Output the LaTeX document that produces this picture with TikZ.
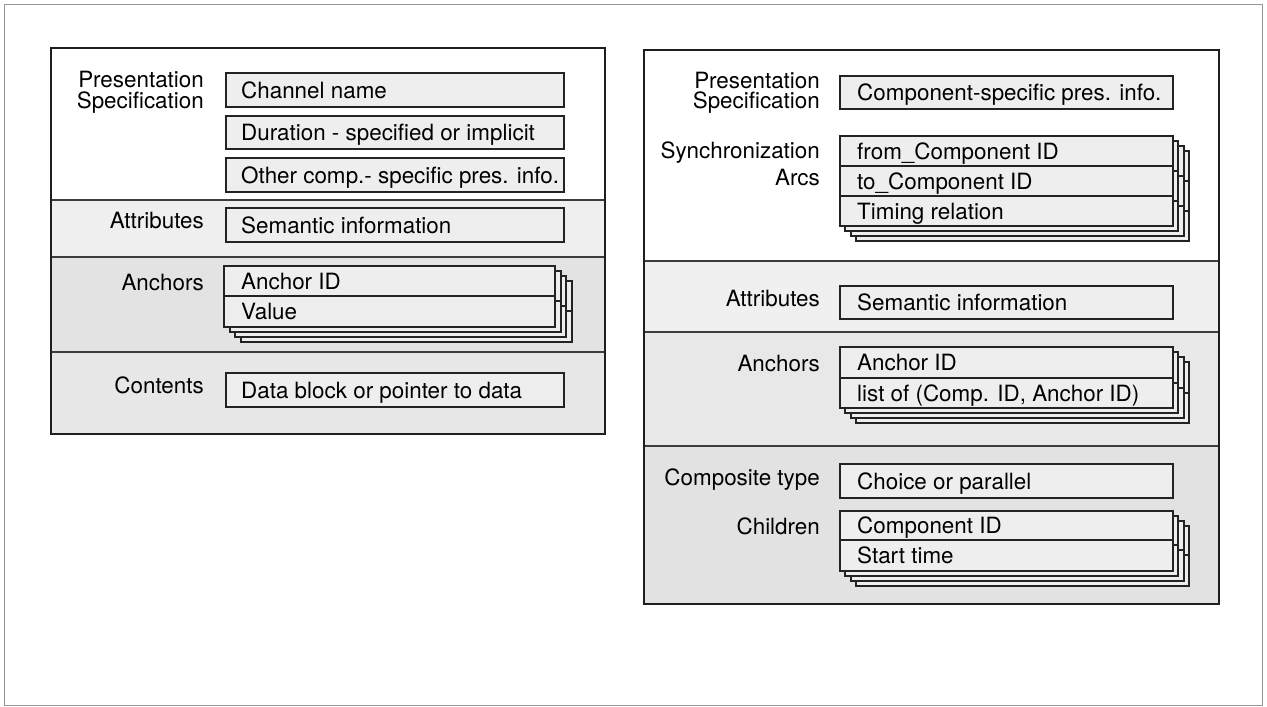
\documentclass[tikz,border=0pt]{standalone}
\usepackage{fontspec}
\setmainfont{TeX Gyre Heros}
\usepackage{tikz}

\begin{document}
\begin{tikzpicture}[x=1pt,y=1pt,yscale=-1,xscale=1,
  panel/.style={draw={rgb, 255:red, 30; green, 30; blue, 30 }, line width=2},
  divider/.style={draw={rgb, 255:red, 60; green, 60; blue, 60 }, line width=1.1},
  fieldbox/.style={draw={rgb, 255:red, 35; green, 35; blue, 35 }, line width=1.4, fill={rgb, 255:red, 238; green, 238; blue, 238 }},
  fieldtxt/.style={anchor=west, inner sep=0, text height=16pt, text depth=0pt, font=\fontsize{22.4}{21.5}\selectfont},
  lbltxt/.style={anchor=east, inner sep=0, text height=16pt, text depth=0pt, font=\fontsize{22.4}{21.5}\selectfont}
]
\useasboundingbox (0,0) rectangle (1267,707);

%Shape: Frame
\draw [color={rgb, 255:red, 150; green, 150; blue, 150 }, line width=1] (4,4) rectangle (1262,705);

%%%%%%%% Left panel
%Shape: Sections
\fill [white] (51,48) rectangle (605,200);
\fill [fill={rgb, 255:red, 239; green, 239; blue, 239 }] (51,200) rectangle (605,257);
\fill [fill={rgb, 255:red, 227; green, 227; blue, 227 }] (51,257) rectangle (605,352);
\fill [fill={rgb, 255:red, 231; green, 231; blue, 231 }] (51,352) rectangle (605,434);
\draw [divider] (51,200) -- (605,200);
\draw [divider] (51,257) -- (605,257);
\draw [divider] (51,352) -- (605,352);
\draw [panel] (51,48) rectangle (605,434);

%Shape: Rectangles
\draw [fieldbox] (226,73) rectangle (564,107);
\draw [fieldbox] (226,116) rectangle (564,149);
\draw [fieldbox] (226,158) rectangle (564,192);
\draw [fieldbox] (226,208) rectangle (564,242);
\draw [fieldbox] (226,373) rectangle (564,407);

%Shape: Stack of anchors
\draw [fieldbox] (241,281) rectangle (572,342) (241,311) -- (572,311);
\draw [fieldbox] (235,276) rectangle (566,337) (235,306) -- (566,306);
\draw [fieldbox] (230,271) rectangle (561,332) (230,301) -- (561,301);
\draw [fieldbox] (224,266) rectangle (555,327) (224,296) -- (555,296);

% Text Node
\node [lbltxt] (lpres) at (204,79) {Presentation};
\node [lbltxt] (lspec) at (204,100) {Specification};
\node [lbltxt] (latt) at (204,220) {Attributes};
\node [lbltxt] (lanc) at (204,282) {Anchors};
\node [lbltxt] (lcont) at (204,385) {Contents};
% Text Node
\node [fieldtxt] (lchan) at (241,90) {Channel name};
\node [fieldtxt] (ldur) at (241,132.5) {Duration - specified or implicit};
\node [fieldtxt] (loth) at (241,175) {Other comp.- specific pres. info.};
\node [fieldtxt] (lsem) at (241,225) {Semantic information};
\node [fieldtxt] (lancid) at (241,281) {Anchor ID};
\node [fieldtxt] (lval) at (241,311.5) {Value};
\node [fieldtxt] (ldata) at (241,390) {Data block or pointer to data};

%%%%%%%% Right panel
%Shape: Sections
\fill [white] (644,50) rectangle (1219,261);
\fill [fill={rgb, 255:red, 240; green, 240; blue, 240 }] (644,261) rectangle (1219,332);
\fill [fill={rgb, 255:red, 232; green, 232; blue, 232 }] (644,332) rectangle (1219,446);
\fill [fill={rgb, 255:red, 226; green, 226; blue, 226 }] (644,446) rectangle (1219,604);
\draw [divider] (644,261) -- (1219,261);
\draw [divider] (644,332) -- (1219,332);
\draw [divider] (644,446) -- (1219,446);
\draw [panel] (644,50) rectangle (1219,604);

%Shape: Rectangles
\draw [fieldbox] (840,76) rectangle (1173,109);
\draw [fieldbox] (840,286) rectangle (1173,319);
\draw [fieldbox] (840,464) rectangle (1173,498);

%Shape: Stack of arcs
\draw [fieldbox] (856,151) rectangle (1189,241) (856,181) -- (1189,181) (856,211) -- (1189,211);
\draw [fieldbox] (851,146) rectangle (1184,236) (851,176) -- (1184,176) (851,206) -- (1184,206);
\draw [fieldbox] (845,141) rectangle (1178,231) (845,171) -- (1178,171) (845,201) -- (1178,201);
\draw [fieldbox] (840,136) rectangle (1173,226) (840,166) -- (1173,166) (840,196) -- (1173,196);

%Shape: Stack of anchors
\draw [fieldbox] (856,362) rectangle (1189,423) (856,393) -- (1189,393);
\draw [fieldbox] (851,357) rectangle (1184,418) (851,388) -- (1184,388);
\draw [fieldbox] (845,352) rectangle (1178,413) (845,383) -- (1178,383);
\draw [fieldbox] (840,347) rectangle (1173,408) (840,378) -- (1173,378);

%Shape: Stack of children
\draw [fieldbox] (856,526) rectangle (1189,586) (856,555) -- (1189,555);
\draw [fieldbox] (851,521) rectangle (1184,581) (851,550) -- (1184,550);
\draw [fieldbox] (845,516) rectangle (1178,576) (845,545) -- (1178,545);
\draw [fieldbox] (840,511) rectangle (1173,571) (840,540) -- (1173,540);

% Text Node
\node [lbltxt] (rpres) at (820,80) {Presentation};
\node [lbltxt] (rspec) at (820,100) {Specification};
\node [lbltxt] (rsync) at (820,150) {Synchronization};
\node [lbltxt] (rarcs) at (820,177) {Arcs};
\node [lbltxt] (ratt) at (820,298) {Attributes};
\node [lbltxt] (ranc) at (820,363) {Anchors};
\node [lbltxt] (rctype) at (820,477) {Composite type};
\node [lbltxt] (rchild) at (820,526) {Children};
% Text Node
\node [fieldtxt] (rcomp) at (857,92.5) {Component-specific pres. info.};
\node [fieldtxt] (rfrom) at (857,151) {from\_Component ID};
\node [fieldtxt] (rto) at (857,181) {to\_Component ID};
\node [fieldtxt] (rtime) at (857,211) {Timing relation};
\node [fieldtxt] (rsem) at (857,302.5) {Semantic information};
\node [fieldtxt] (rancid) at (857,362.5) {Anchor ID};
\node [fieldtxt] (rlist) at (857,393) {list of (Comp. ID, Anchor ID)};
\node [fieldtxt] (rchoice) at (857,481) {Choice or parallel};
\node [fieldtxt] (rcid) at (857,525.5) {Component ID};
\node [fieldtxt] (rstart) at (857,555.5) {Start time};

\end{tikzpicture}
\end{document}
